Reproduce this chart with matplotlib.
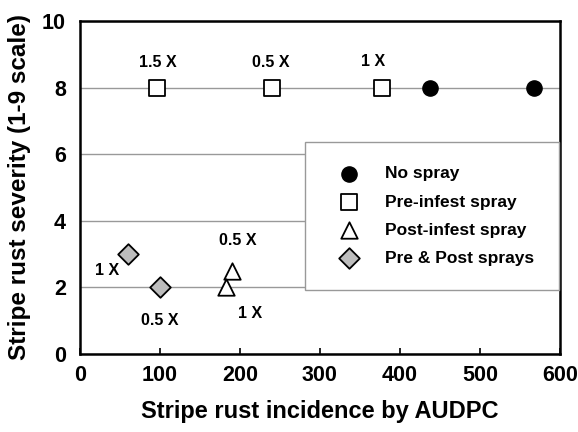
import matplotlib
matplotlib.use('Agg')
import matplotlib.pyplot as plt

plt.rcParams['font.family'] = ['Liberation Sans', 'DejaVu Sans']
plt.rcParams['font.weight'] = 'bold'

# data
no_spray_x = [438, 568]
no_spray_y = [8, 8]
pre_x = [97, 240, 378]
pre_y = [8, 8, 8]
post_x = [190, 183]
post_y = [2.5, 2.0]
both_x = [60, 100]
both_y = [3, 2]

labels = ['1.5 X', '0.5 X', '1 X', '0.5 X', '1 X', '1 X', '0.5 X']
label_x = [98, 238, 366, 197, 213, 34, 100]
label_y = [8.75, 8.75, 8.78, 3.4, 1.2, 2.5, 1.0]

fig = plt.figure(figsize=(5.78, 4.32), dpi=100)
ax = fig.add_axes([0.138, 0.181, 0.831, 0.77])

ax.scatter(no_spray_x, no_spray_y, marker='o', s=120, color='black', label='No spray', zorder=3)
ax.scatter(pre_x, pre_y, marker='s', s=120, facecolor='white', edgecolor='black', linewidth=1.3, label='Pre-infest spray', zorder=3)
ax.scatter(post_x, post_y, marker='^', s=140, facecolor='white', edgecolor='black', linewidth=1.3, label='Post-infest spray', zorder=3)
ax.scatter(both_x, both_y, marker='D', s=110, facecolor='#bdbdbd', edgecolor='black', linewidth=1.3, label='Pre & Post sprays', zorder=3)

for t, x, y in zip(labels, label_x, label_y):
    ax.text(x, y, t, ha='center', va='center', fontsize=11.5, fontweight='bold')

ax.set_xlim(0, 600)
ax.set_ylim(0, 10)
ax.set_xticks(range(0, 601, 100))
ax.set_yticks(range(0, 11, 2))
ax.yaxis.grid(True, color='#999999', linewidth=1)
ax.set_axisbelow(True)
ax.tick_params(axis='x', direction='in', length=4, width=1.2, labelsize=15.5, pad=8)
ax.tick_params(axis='y', length=0, labelsize=15.5, pad=10)
for s in ax.spines.values():
    s.set_linewidth(1.8)

ax.set_xlabel('Stripe rust incidence by AUDPC', fontsize=17, fontweight='bold', labelpad=10)
ax.set_ylabel('Stripe rust severity (1-9 scale)', fontsize=17.5, fontweight='bold', labelpad=8)

leg = ax.legend(loc='upper right', bbox_to_anchor=(0.997, 0.637), fontsize=12.5, frameon=True,
                fancybox=False, edgecolor='#999999', framealpha=1, borderpad=1.4,
                handletextpad=1.0, labelspacing=0.75, borderaxespad=0, handlelength=2.2)
leg.get_frame().set_linewidth(1)

fig.savefig('out.png', dpi=100)
